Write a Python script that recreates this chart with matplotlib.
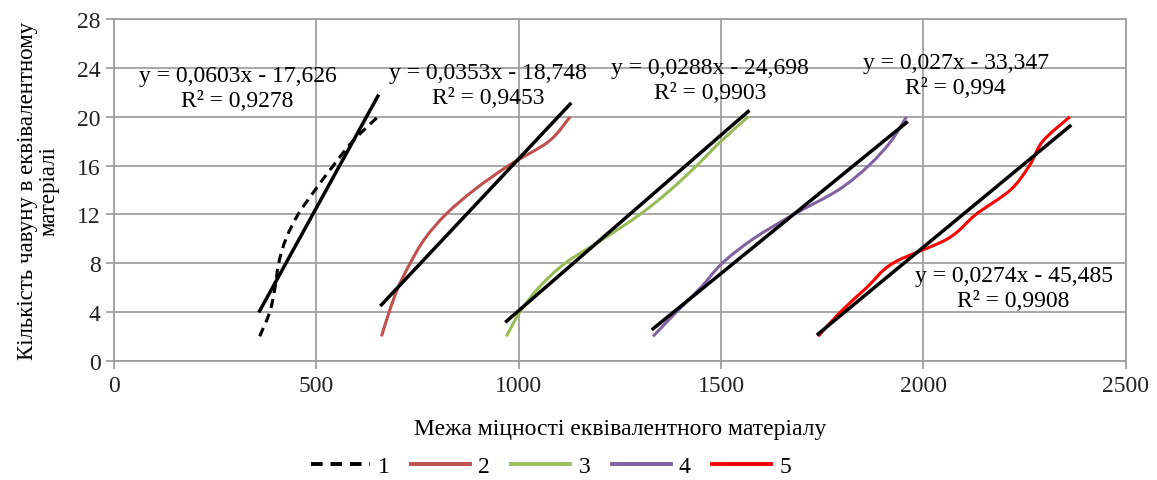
import matplotlib.pyplot as plt
from matplotlib.path import Path
from matplotlib.patches import PathPatch
from matplotlib.lines import Line2D
import numpy as np

plt.rcParams['font.family'] = ['Liberation Serif', 'DejaVu Serif']

# strength of equivalent material vs cast iron content
y_vals = [2, 4, 6, 8, 10, 12, 14, 16, 18, 20]
x1 = [360, 385, 398, 407, 425, 455, 497, 542, 590, 652]
x2 = [661, 680, 702, 732, 768, 820, 890, 975, 1075, 1127]
x3 = [970, 1003, 1050, 1115, 1210, 1300, 1375, 1440, 1500, 1567]
x4 = [1332, 1390, 1450, 1503, 1580, 1680, 1790, 1865, 1920, 1958]
x5 = [1740, 1795, 1860, 1925, 2060, 2130, 2215, 2262, 2295, 2362]

labels = ['1', '2', '3', '4', '5']
colors = ['black', '#C0504D', '#9BBB59', '#8064A2', '#FF0000']

# linear trendlines shown on the chart
slopes = [0.0603, 0.0353, 0.0288, 0.027, 0.0274]
intercepts = [-17.626, -18.748, -24.698, -33.347, -45.485]
r2 = ['0,9278', '0,9453', '0,9903', '0,994', '0,9908']
eq_pos = [(305, 22.4), (924, 22.6), (1472, 23.0), (2080, 23.45), (2223, 6.0)]


def smooth_path(xs, ys):
    # excel-like smoothed line: cubic bezier segments through the points
    p = np.column_stack([xs, ys]).astype(float)
    verts = [p[0]]
    codes = [Path.MOVETO]
    n = len(p)
    for i in range(n - 1):
        p0 = p[i - 1] if i > 0 else p[i]
        p3 = p[i + 2] if i + 2 < n else p[i + 1]
        c1 = p[i] + (p[i + 1] - p0) / 6
        c2 = p[i + 1] - (p3 - p[i]) / 6
        verts += [c1, c2, p[i + 1]]
        codes += [Path.CURVE4] * 3
    return Path(verts, codes)


fig = plt.figure(figsize=(11.57, 4.81), dpi=100)
ax = fig.add_axes([0.0985, 0.248, 0.8745, 0.71])

series = [x1, x2, x3, x4, x5]
handles = []
for i, xs in enumerate(series):
    ls = (0, (3, 2)) if i == 0 else '-'
    ax.add_patch(PathPatch(smooth_path(xs, y_vals), fill=False, edgecolor=colors[i],
                           lw=2.2, ls=ls, zorder=3, capstyle='butt'))
    handles.append(Line2D([], [], color=colors[i], lw=2.8, ls=ls, label=labels[i]))

for i, xs in enumerate(series):
    xt = np.array([min(xs), max(xs)])
    ax.plot(xt, slopes[i] * xt + intercepts[i], color='black', lw=2.5, zorder=4)
    s = f"{slopes[i]}".replace('.', ',')
    b = f"{abs(intercepts[i])}".replace('.', ',')
    ax.text(eq_pos[i][0], eq_pos[i][1], f"y = {s}x - {b}\nR² = {r2[i]}",
            ha='center', va='center', multialignment='center', fontsize=17,
            linespacing=1.25, zorder=5)

ax.set_xlim(0, 2500)
ax.set_ylim(0, 28)
ax.set_xticks(np.arange(0, 2501, 500))
ax.set_yticks(np.arange(0, 29, 4))
ax.grid(True, color='#A0A0A0', lw=1.3)
ax.set_axisbelow(True)
for sp in ax.spines.values():
    sp.set_color('#A0A0A0')
    sp.set_linewidth(1.3)
ax.tick_params(colors='#A0A0A0', labelcolor='#222222', labelsize=17, length=6, width=1.3)
ax.tick_params(axis='x', pad=4)

ax.set_xlabel('Межа міцності еквівалентного матеріалу', fontsize=17, labelpad=16)
ax.set_ylabel('Кількість чавуну в еквівалентному\nматеріалі', fontsize=16.5,
              labelpad=13, linespacing=1.0)

fig.legend(handles=handles, loc='center', bbox_to_anchor=(0.476, 0.028), ncol=5,
           frameon=False, fontsize=17, handlelength=2.5, columnspacing=0.9,
           handletextpad=0.35)

fig.savefig('out.png', dpi=100)
